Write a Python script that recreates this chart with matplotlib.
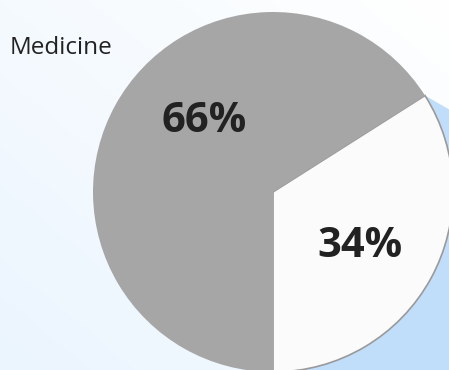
import numpy as np
import matplotlib.pyplot as plt
from matplotlib.patches import Polygon
from matplotlib.colors import to_rgb

# share of the pie
labels = ["Other", "Medicine"]
shares = [34, 66]
colors = ["#fbfbfb", "#a6a6a6"]

W, H = 449, 370
fig = plt.figure(figsize=(W / 100, H / 100), dpi=100)
ax = fig.add_axes([0, 0, 1, 1])

# soft background: white at top right, pale blue at bottom left
yy, xx = np.mgrid[0:1:200j, 0:1:200j]
t = np.clip((xx + yy) / 2, 0, 1)  # 0 at bottom-left, 1 at top-right
c0 = np.array(to_rgb("#ebf5fe"))
c1 = np.array(to_rgb("#ffffff"))
grad = c0[None, None, :] * (1 - t[..., None]) + c1[None, None, :] * t[..., None]
ax.imshow(grad, extent=(0, W, 0, H), origin="lower", zorder=0, aspect="auto")

cx, cy, r = 273, H - 192, 180
start = -90
end_small = np.deg2rad(start + 360 * shares[0] / sum(shares))

# blue backdrop sloping down from the slice corner
px, py = cx + r * np.cos(end_small), cy + r * np.sin(end_small)
slope = np.tan(np.deg2rad(-30))
far = 400
ax.add_patch(Polygon([(cx, cy), (px, py), (px + far, py + far * slope),
                      (px + far, -50), (cx, -50)],
                     closed=True, facecolor="#c0ddf9", edgecolor="none",
                     zorder=1))

wedges, _ = ax.pie(shares, colors=colors, startangle=start, counterclock=True,
                   center=(cx, cy), radius=r,
                   wedgeprops=dict(linewidth=0, zorder=2))
wedges[0].set_edgecolor("#9a9a9a")
wedges[0].set_linewidth(1.2)

# percentage labels
label_angles = [-30.5, 133.0]
for v, ang in zip(shares, label_angles):
    a = np.deg2rad(ang)
    ax.text(cx + 0.56 * r * np.cos(a), cy + 0.56 * r * np.sin(a) - 3, f"{v}%",
            ha="center", va="center", fontsize=30, fontweight="bold",
            color="#222222", family="Open Sans", zorder=3)

ax.text(10, H - 48, "Medicine", ha="left", va="center", fontsize=17.5,
        color="#222222", family="Open Sans", zorder=3)

ax.set_xlim(0, W)
ax.set_ylim(0, H)
ax.set_aspect("auto")
ax.axis("off")

fig.savefig("out.png", dpi=100)
